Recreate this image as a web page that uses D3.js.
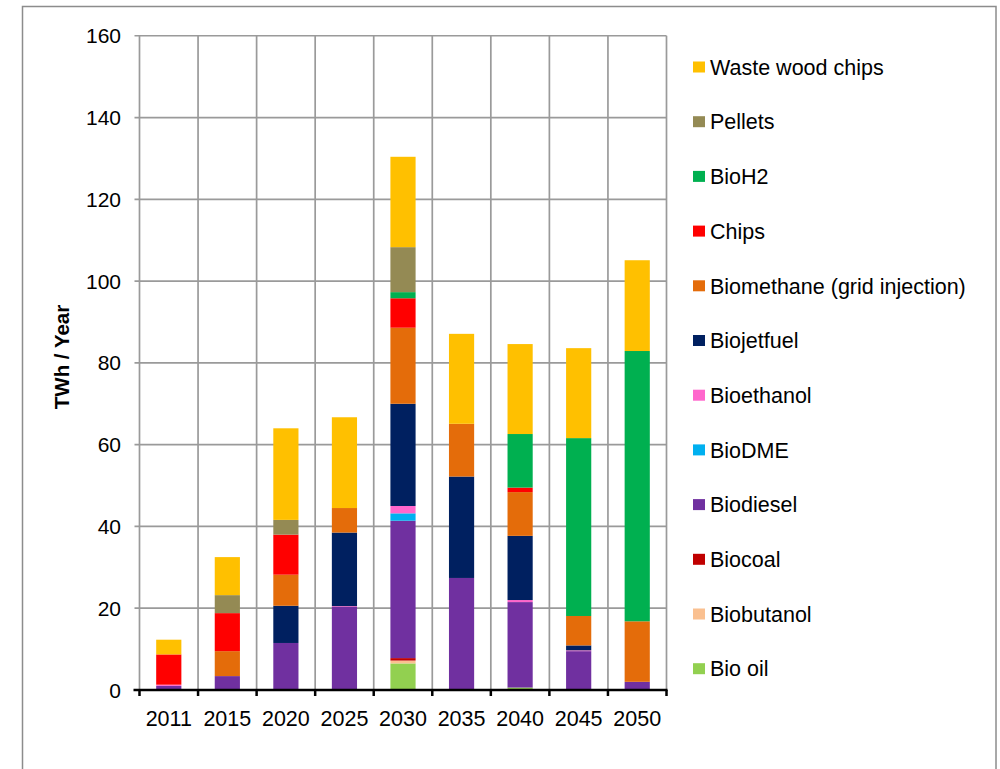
<!DOCTYPE html>
<html>
<head>
<meta charset="utf-8">
<script src="https://cdn.jsdelivr.net/npm/d3@7"></script>
<style>
  html, body { margin: 0; padding: 0; background: #fff; }
  svg { display: block; }
  text { font-family: "Liberation Sans", Arial, sans-serif; fill: #000; }
</style>
</head>
<body>
<svg id="chart" width="1000" height="769"></svg>
<script>
// ---- data ----
const years = ["2011", "2015", "2020", "2025", "2030", "2035", "2040", "2045", "2050"];
const yTicks = [0, 20, 40, 60, 80, 100, 120, 140, 160];

// series, listed bottom of stack to top
const bioOil      = [0,   0,   0,    0,    6.5,  0,    0.6,  0,    0];
const biobutanol  = [0,   0,   0,    0,    0.7,  0,    0,    0,    0];
const biocoal     = [0,   0,   0,    0,    0.6,  0,    0,    0,    0];
const biodiesel   = [1.0, 3.4, 11.5, 20.3, 33.6, 27.4, 20.9, 9.5,  2.0];
const bioDME      = [0,   0,   0,    0,    1.8,  0,    0,    0,    0];
const bioethanol  = [0.3, 0,   0,    0.2,  1.8,  0,    0.5,  0.2,  0];
const biojetfuel  = [0,   0,   9.1,  18.0, 25.0, 24.8, 15.7, 1.2,  0];
const biomethane  = [0,   6.1, 7.6,  6.0,  18.6, 12.9, 10.7, 7.2,  14.8];
const chips       = [7.4, 9.3, 9.8,  0,    7.2,  0,    1.1,  0,    0];
const bioH2       = [0,   0,   0,    0,    1.5,  0,    13.1, 43.5, 66.1];
const pellets     = [0,   4.4, 3.6,  0,    11.0, 0,    0,    0,    0];
const wasteChips  = [3.6, 9.3, 22.4, 22.2, 22.1, 22.0, 22.0, 22.0, 22.2];

const seriesNames = ["Bio oil", "Biobutanol", "Biocoal", "Biodiesel", "BioDME", "Bioethanol",
  "Biojetfuel", "Biomethane (grid injection)", "Chips", "BioH2", "Pellets", "Waste wood chips"];
const seriesValues = [bioOil, biobutanol, biocoal, biodiesel, bioDME, bioethanol,
  biojetfuel, biomethane, chips, bioH2, pellets, wasteChips];
const seriesColors = ["#92D050", "#FAC090", "#C00000", "#7030A0", "#00B0F0", "#FF66CC",
  "#002060", "#E46C0A", "#FF0000", "#00B050", "#948A54", "#FFC000"];

// ---- build table ----
const table = years.map((y, i) => {
  const row = { year: y };
  seriesNames.forEach((n, k) => row[n] = seriesValues[k][i]);
  return row;
});
const stack = d3.stack().keys(seriesNames)(table);

const svg = d3.select("#chart");

// outer frame
svg.append("rect")
  .attr("x", 22.5).attr("y", 6.5).attr("width", 973.5).attr("height", 780)
  .attr("fill", "none").attr("stroke", "#8c8c8c").attr("stroke-width", 1.5);

const plotL = 139.5, plotR = 666.5, plotT = 35.75, plotB = 690;

const x = d3.scaleBand().domain(years).range([plotL, plotR]).padding(0);
const y = d3.scaleLinear().domain([0, 160]).range([plotB, plotT]);

const gridColor = "#9a9a9a";

// horizontal gridlines
svg.append("g").selectAll("line")
  .data(yTicks.filter(t => t > 0))
  .join("line")
  .attr("x1", plotL - 5).attr("x2", plotR)
  .attr("y1", d => y(d)).attr("y2", d => y(d))
  .attr("stroke", gridColor).attr("stroke-width", 1.7);

// vertical gridlines at category boundaries
const bounds = years.map(d => x(d)).concat([x(years[years.length - 1]) + x.bandwidth()]);
svg.append("g").selectAll("line")
  .data(bounds)
  .join("line")
  .attr("x1", d => d).attr("x2", d => d)
  .attr("y1", plotT).attr("y2", plotB)
  .attr("stroke", gridColor).attr("stroke-width", 1.7);

// y tick labels
svg.append("g").selectAll("text")
  .data(yTicks)
  .join("text")
  .attr("x", 121).attr("y", d => y(d))
  .attr("dy", "0.36em")
  .attr("text-anchor", "end")
  .attr("font-size", 21)
  .text(d => d);

// y-axis title
svg.append("text")
  .attr("transform", "translate(69,357) rotate(-90)")
  .attr("text-anchor", "middle")
  .attr("font-size", 20.5)
  .attr("font-weight", "bold")
  .text("TWh / Year");

// bars
const barW = x.bandwidth() * 0.43;
svg.append("g").selectAll("g")
  .data(stack)
  .join("g")
  .attr("fill", (d, i) => seriesColors[i])
  .selectAll("rect")
  .data(d => d.filter(p => p[1] - p[0] > 0))
  .join("rect")
  .attr("x", d => x(d.data.year) + (x.bandwidth() - barW) / 2)
  .attr("width", barW)
  .attr("y", d => y(d[1]))
  .attr("height", d => y(d[0]) - y(d[1]));

// x axis line + ticks
svg.append("line")
  .attr("x1", plotL - 6).attr("x2", plotR + 1)
  .attr("y1", plotB).attr("y2", plotB)
  .attr("stroke", "#000").attr("stroke-width", 2.5);
svg.append("g").selectAll("line")
  .data(bounds)
  .join("line")
  .attr("x1", d => d).attr("x2", d => d)
  .attr("y1", plotB).attr("y2", plotB + 6)
  .attr("stroke", "#000").attr("stroke-width", 2.5);

// x labels
svg.append("g").selectAll("text")
  .data(years)
  .join("text")
  .attr("x", d => x(d) + x.bandwidth() / 2)
  .attr("y", 726)
  .attr("text-anchor", "middle")
  .attr("font-size", 21.5)
  .text(d => d);

// legend (top to bottom = reverse of stack order)
const legendItems = seriesNames.map((n, i) => ({ name: n, color: seriesColors[i] })).reverse();
const lg = svg.append("g").selectAll("g")
  .data(legendItems)
  .join("g")
  .attr("transform", (d, i) => "translate(693," + (67 + i * 54.7) + ")");
lg.append("rect")
  .attr("x", 0).attr("y", -5.5).attr("width", 12).attr("height", 11)
  .attr("fill", d => d.color);
lg.append("text")
  .attr("x", 17).attr("y", 0).attr("dy", "0.36em")
  .attr("font-size", 21.5)
  .text(d => d.name);
</script>
</body>
</html>
